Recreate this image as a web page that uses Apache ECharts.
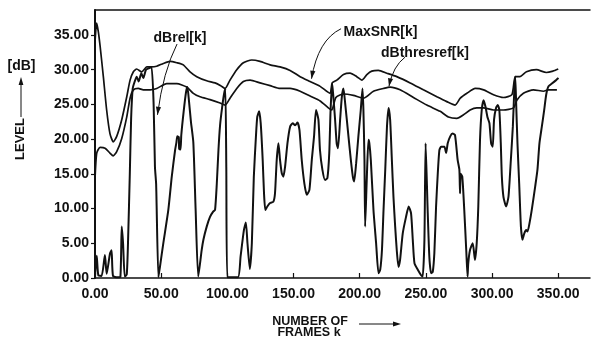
<!DOCTYPE html>
<html>
<head>
<meta charset="utf-8">
<script src="https://cdn.jsdelivr.net/npm/echarts@6/dist/echarts.min.js"></script>
<style>
  html, body { margin: 0; padding: 0; background: #fff; }
  #chart { width: 592px; height: 339px; }
</style>
</head>
<body>
<div id="chart"></div>
<script>
// Tick positions of both axes
const frameTicks = [0, 50, 100, 150, 200, 250, 300, 350];
const levelTicks = [0, 5, 10, 15, 20, 25, 30, 35];

// MaxSNR[k]  -- [frame k, level dB]
const maxSnr = [
  [0, 34.0], [1.2, 36.7], [2.5, 35.5], [3.8, 33.5], [6.3, 29.0], [8.8, 24.2], [11.3, 20.8],
  [13.8, 19.6], [16.4, 20.4], [20.2, 22.8], [24.0, 26.1], [26.5, 28.5], [29.0, 29.7], [31.5, 30.1],
  [35.3, 29.7], [39.1, 30.4], [42.5, 30.4], [46.6, 30.5], [51.6, 30.9], [56.7, 31.2], [61.8, 31.0],
  [66.7, 30.7], [71.8, 29.7], [76.9, 29.0], [84.4, 28.4], [90.7, 28.1], [95.0, 27.7], [98.3, 27.3],
  [102.0, 28.5], [107.1, 30.0], [112.1, 31.0], [118.4, 31.4], [124.7, 31.2], [132.3, 30.7],
  [139.8, 30.4], [147.4, 29.9], [155.0, 29.0], [162.5, 28.3], [170.1, 27.6], [177.6, 26.6],
  [179.2, 28.1], [182.7, 28.5], [187.7, 29.3], [192.7, 29.5], [197.8, 29.0], [201.6, 28.5],
  [205.4, 29.3], [209.1, 29.8], [214.1, 29.9], [220.5, 29.5], [228.0, 29.0], [238.1, 28.1],
  [248.1, 27.1], [258.3, 26.1], [265.8, 25.4], [272.1, 24.9], [276.0, 25.9], [281.0, 26.6],
  [287.3, 27.3], [293.6, 27.1], [301.1, 26.4], [308.6, 26.0], [315.0, 26.4], [317.5, 29.0],
  [321.0, 29.0], [326.0, 29.7], [333.5, 30.0], [341.0, 29.6], [346.0, 29.8], [350.0, 30.1]
];

// dBthresref[k]
const dBthresref = [
  [0, 14.2], [1.3, 18.0], [3.8, 18.8], [7.6, 18.7], [11.3, 18.0], [13.8, 17.6], [16.4, 18.2],
  [20.2, 20.1], [24.0, 23.2], [26.5, 25.9], [29.0, 27.1], [32.7, 27.3], [36.5, 27.1], [41.6, 27.1],
  [46.6, 27.3], [54.2, 28.0], [61.8, 28.0], [69.3, 27.5], [74.3, 26.6], [79.4, 26.1], [86.9, 25.7],
  [94.5, 25.2], [98.3, 24.9], [102.0, 25.9], [107.1, 27.3], [112.1, 28.3], [117.2, 28.5],
  [124.7, 28.1], [132.3, 27.7], [139.8, 27.3], [147.4, 27.3], [155.0, 26.9], [162.5, 26.2],
  [170.1, 25.5], [176.3, 24.5], [178.9, 24.2], [182.0, 26.0], [187.7, 26.5], [195.2, 26.3],
  [202.8, 25.9], [210.4, 26.9], [217.9, 27.3], [223.0, 27.5], [230.5, 27.1], [240.6, 26.0],
  [250.7, 24.9], [260.8, 24.0], [267.0, 23.2], [273.4, 23.0], [278.4, 23.5], [283.4, 24.2],
  [288.5, 24.5], [293.5, 24.5], [301.1, 24.2], [308.6, 24.2], [316.2, 24.5], [318.7, 25.6],
  [323.7, 26.6], [331.3, 27.1], [338.9, 26.9], [342.6, 27.1], [349.0, 27.1]
];

// dBrel[k]
const dBrel = [
  [0, 0.3], [1.3, 3.2], [2.5, 0.4], [5.0, 0.3], [7.5, 3.3], [8.8, 0.6], [11.3, 3.5], [12.5, 4.0],
  [13.6, 0.3], [17.0, 0.1], [19.2, 0.2], [20.2, 7.4], [21.2, 5.0], [22.5, 0.2], [24.0, 0.5],
  [25.0, 5.5], [26.3, 15.0], [27.3, 23.0], [28.5, 27.3], [30.0, 28.3], [31.5, 29.0], [33.0, 28.3],
  [35.0, 29.5], [36.5, 28.8], [38.5, 30.0], [40.5, 30.2], [42.7, 30.4], [44.3, 25.0], [45.3, 16.0],
  [46.2, 13.5], [47.9, 0.1], [49.0, 1.5], [51.6, 5.0], [55.4, 9.8], [58.0, 14.6], [60.5, 18.4],
  [61.5, 19.5], [62.2, 20.4], [63.3, 20.3], [63.6, 18.6], [64.6, 18.5], [65.2, 20.6], [67.0, 24.0],
  [68.8, 26.8], [69.8, 27.5], [71.0, 25.5], [72.5, 22.5], [74.3, 19.5], [76.0, 10.0], [78.0, 0.2],
  [80.6, 4.0], [81.9, 5.5], [84.4, 7.4], [86.9, 8.8], [89.4, 9.6], [90.7, 9.8], [92.0, 13.5],
  [93.3, 18.5], [94.5, 22.0], [96.0, 24.5], [97.5, 26.5], [98.5, 27.3], [99.2, 16.0], [100.0, 0.1],
  [108.0, 0.1], [110.0, 3.1], [112.5, 6.9], [114.0, 8.0], [115.2, 5.0], [117.0, 1.3], [118.5, 5.0],
  [120.0, 14.6], [121.6, 20.4], [122.6, 23.2], [124.0, 24.0], [125.2, 22.3], [126.7, 17.0],
  [127.7, 12.2], [128.7, 9.8], [130.2, 10.3], [132.3, 10.8], [134.8, 11.0], [136.0, 12.2],
  [137.3, 17.0], [138.6, 19.4], [139.8, 17.0], [141.1, 15.1], [142.3, 14.6], [143.6, 16.0],
  [145.4, 19.4], [147.4, 21.8], [149.4, 22.3], [151.2, 22.0], [153.0, 22.4], [154.5, 21.3],
  [156.2, 17.0], [158.2, 13.6], [160.0, 12.0], [162.0, 12.7], [163.8, 17.0], [165.5, 20.4],
  [167.0, 24.2], [168.8, 22.8], [170.0, 18.4], [171.8, 15.6], [173.8, 14.1], [175.6, 14.4],
  [177.0, 18.0], [178.0, 24.2], [179.2, 28.0], [180.1, 26.1], [181.4, 22.8], [182.6, 19.4],
  [183.6, 18.7], [185.2, 22.8], [186.5, 26.1], [187.7, 27.3], [189.0, 25.2], [191.5, 20.4],
  [193.3, 17.0], [194.8, 14.6], [195.8, 13.9], [197.3, 16.5], [199.0, 20.4], [200.8, 24.2],
  [202.1, 27.3], [202.8, 24.2], [203.6, 17.0], [204.1, 7.4], [205.4, 14.6], [206.6, 19.9],
  [207.3, 19.4], [208.4, 17.0], [210.4, 9.8], [212.4, 5.0], [214.2, 0.7], [215.5, 1.2],
  [216.8, 4.0], [218.0, 9.8], [219.3, 15.6], [220.6, 21.8], [221.8, 24.5], [223.0, 22.8],
  [224.3, 17.0], [225.5, 11.7], [226.8, 7.4], [228.0, 4.0], [229.3, 1.6], [230.5, 2.6],
  [232.5, 6.4], [235.0, 8.8], [237.0, 10.3], [238.8, 9.3], [240.1, 5.5], [241.4, 2.1],
  [243.9, 1.2], [246.4, 0.4], [247.6, 0.2], [248.9, 5.5], [249.8, 19.4], [251.3, 10.0],
  [252.6, 3.1], [253.9, 0.7], [255.2, 0.9], [256.4, 3.6], [257.7, 10.3], [259.0, 15.1],
  [260.2, 18.4], [261.5, 18.9], [264.0, 18.9], [265.3, 18.0], [266.5, 19.4], [268.4, 20.4],
  [270.2, 20.8], [272.0, 20.6], [274.0, 17.0], [275.3, 15.6], [275.8, 12.2], [276.3, 15.0],
  [277.5, 14.6], [279.0, 9.8], [280.5, 4.0], [281.5, 0.2], [282.0, 2.1], [283.3, 4.0],
  [285.4, 5.0], [287.1, 2.6], [288.4, 5.0], [289.6, 10.3], [290.9, 19.9], [292.2, 24.2],
  [293.6, 25.6], [295.0, 24.7], [296.5, 23.2], [298.0, 22.3], [299.3, 19.4], [300.5, 18.9],
  [301.5, 22.8], [303.0, 24.5], [304.3, 24.9], [305.5, 24.2], [306.6, 19.4], [307.4, 14.6],
  [308.6, 11.7], [310.6, 10.3], [312.4, 11.7], [314.2, 17.0], [315.7, 21.8], [316.7, 26.6],
  [317.5, 29.0], [318.2, 25.2], [319.2, 19.4], [320.5, 13.6], [321.8, 7.4], [323.0, 5.5],
  [324.3, 6.4], [325.8, 6.9], [326.8, 6.7], [328.3, 7.9], [330.0, 9.8], [332.6, 13.2],
  [334.3, 15.6], [335.8, 19.4], [337.6, 21.8], [339.4, 24.2], [340.9, 26.4], [342.6, 27.6],
  [345.2, 28.0], [348.4, 28.5], [350.2, 28.8]
];

// Curve callouts: label anchor and arrow (start, control, tip) in [frame, dB]
const callouts = [
  { text: 'dBrel[k]',      label: [64.2, 34.6],  start: [62.0, 33.7],  ctrl: [51.4, 29.7],  tip: [47.2, 23.5] },
  { text: 'MaxSNR[k]',     label: [215.7, 35.4], start: [185.9, 35.9], ctrl: [168.5, 34.3], tip: [163.6, 28.7] },
  { text: 'dBthresref[k]', label: [249.3, 32.4], start: [234.2, 31.8], ctrl: [225.2, 30.5], tip: [222.1, 27.6] }
];

const INK = '#111';
const FONT = 'Liberation Sans, Arial, Helvetica, sans-serif';
const tickFmt = v => Number(v).toFixed(2);

const chart = echarts.init(document.getElementById('chart'), null, { renderer: 'canvas' });

function lineSeries(name, data, width) {
  return {
    name, type: 'line', data,
    xAxisIndex: 0, yAxisIndex: 0,
    showSymbol: false, smooth: 0.2, silent: true,
    lineStyle: { color: INK, width },
    z: 3
  };
}

chart.setOption({
  animation: false,
  backgroundColor: '#fff',
  grid: { left: 95, right: 2, top: 10, bottom: 61, containLabel: false, outerBoundsMode: 'none' },
  xAxis: [
    {
      type: 'value', min: 0, max: 374, position: 'bottom',
      axisLine: { show: true, onZero: false, lineStyle: { color: INK, width: 1.5 } },
      axisTick: { show: true, inside: true, length: 5, customValues: frameTicks, lineStyle: { color: INK, width: 1.2 } },
      axisLabel: { customValues: frameTicks, formatter: tickFmt, margin: 9, color: INK,
                   fontSize: 14, fontWeight: 'bold', fontFamily: FONT },
      splitLine: { show: false }
    },
    {
      type: 'value', min: 0, max: 374, position: 'top',
      axisLine: { show: true, onZero: false, lineStyle: { color: INK, width: 1.5 } },
      axisTick: { show: false }, axisLabel: { show: false }, splitLine: { show: false }
    }
  ],
  yAxis: {
    type: 'value', min: 0, max: 38.6,
    axisLine: { show: true, onZero: false, lineStyle: { color: INK, width: 2 } },
    axisTick: { show: true, length: 4, customValues: levelTicks, lineStyle: { color: INK, width: 1.2 } },
    axisLabel: { customValues: levelTicks, formatter: tickFmt, margin: 6, color: INK,
                 fontSize: 14, fontWeight: 'bold', fontFamily: FONT },
    splitLine: { show: false }
  },
  series: [
    lineSeries('MaxSNR[k]', maxSnr, 1.7),
    lineSeries('dBthresref[k]', dBthresref, 1.7),
    lineSeries('dBrel[k]', dBrel, 2)
  ]
});

// Arrowhead triangle pointing from `from` towards `tip`
function arrowHead(tip, from, len, half) {
  const dx = tip[0] - from[0], dy = tip[1] - from[1];
  const d = Math.hypot(dx, dy) || 1;
  const ux = dx / d, uy = dy / d;
  const bx = tip[0] - ux * len, by = tip[1] - uy * len;
  return [[tip[0], tip[1]], [bx - uy * half, by + ux * half], [bx + uy * half, by - ux * half]];
}

const toPx = p => chart.convertToPixel({ xAxisIndex: 0, yAxisIndex: 0 }, p);
const labelStyle = size => ({ fill: INK, font: 'bold ' + size + 'px ' + FONT, textAlign: 'center', textVerticalAlign: 'middle' });

const elements = [];
callouts.forEach(c => {
  const s = toPx(c.start), k = toPx(c.ctrl), t = toPx(c.tip), l = toPx(c.label);
  elements.push({ type: 'text', x: l[0], y: l[1], style: Object.assign({ text: c.text }, labelStyle(14)), z: 10 });
  elements.push({ type: 'bezierCurve', shape: { x1: s[0], y1: s[1], cpx1: k[0], cpy1: k[1], x2: t[0], y2: t[1] },
                  style: { stroke: INK, lineWidth: 1, fill: null }, z: 10 });
  elements.push({ type: 'polygon', shape: { points: arrowHead(t, k, 8, 2.6) }, style: { fill: INK }, z: 10 });
});

// Axis titles with their arrows
elements.push({ type: 'text', x: 21.5, y: 66, style: Object.assign({ text: '[dB]' }, labelStyle(14)) });
elements.push({ type: 'text', x: 20, y: 139, rotation: Math.PI / 2, style: Object.assign({ text: 'LEVEL' }, labelStyle(13)) });
elements.push({ type: 'line', shape: { x1: 21, y1: 117, x2: 21, y2: 84 }, style: { stroke: INK, lineWidth: 1 } });
elements.push({ type: 'polygon', shape: { points: arrowHead([21, 77], [21, 90], 8, 2.4) }, style: { fill: INK } });
elements.push({ type: 'text', x: 310, y: 321.5, style: Object.assign({ text: 'NUMBER OF' }, labelStyle(12.5)) });
elements.push({ type: 'text', x: 309, y: 332.5, style: Object.assign({ text: 'FRAMES k' }, labelStyle(12.5)) });
elements.push({ type: 'line', shape: { x1: 359, y1: 324, x2: 394, y2: 324 }, style: { stroke: INK, lineWidth: 1 } });
elements.push({ type: 'polygon', shape: { points: arrowHead([401, 324], [390, 324], 8, 2.4) }, style: { fill: INK } });

chart.setOption({ graphic: { elements } });
</script>
</body>
</html>
